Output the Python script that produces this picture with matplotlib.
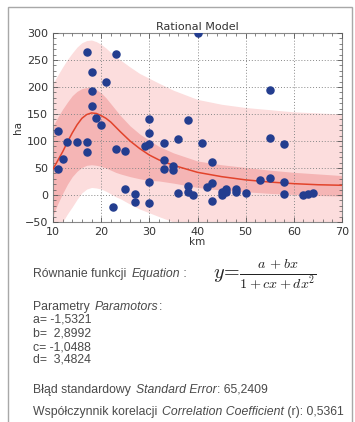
import matplotlib
matplotlib.use("Agg")
import matplotlib.pyplot as plt
from matplotlib.patches import Rectangle
from matplotlib.ticker import MultipleLocator

# Observations (distance in km, area in ha)
obs_km = [11, 11, 12, 13, 15, 17, 17, 17, 18, 18, 18, 19, 20, 21, 23, 23, 22.5,
          25, 25, 27, 27, 29, 30, 30, 30, 30, 30, 33, 33, 33, 35, 35, 36, 36,
          38, 38, 38, 39, 40, 41, 42, 43, 43, 43, 45, 45, 46, 46, 48, 48, 50,
          53, 55, 55, 55, 58, 58, 58, 62, 63, 64]
obs_ha = [118, 48, 67, 99, 99, 265, 99, 80, 227, 192, 165, 142, 130, 210, 262, 86, -23,
          81, 11, 2, -13, 91, 141, 115, 95, 24, -14, 97, 64, 48, 54, 47, 103, 4,
          139, 16, 5, 0, 300, 96, 14, 62, 22, -12, 6, 0, 12, 5, 12, 5, 3,
          28, 195, 106, 31, 95, 25, 2, 0, 1, 4]

# Fitted rational model with confidence and prediction bands
fit_km = [10, 11, 12, 13, 14, 15, 16, 17, 18, 19, 20, 21, 22, 23, 24, 26, 28, 30, 32, 35,
          40, 45, 50, 55, 60, 65, 70]
fit_ha = [48, 64, 80, 98, 115, 130, 142, 149, 152, 151, 147, 142, 135, 126, 117, 100, 86,
          74, 65, 55, 42, 34, 28, 24, 21, 19, 18]
conf_hi = [128, 144, 159, 172, 184, 192, 197, 199, 199, 195, 189, 180, 169, 158, 147, 128,
           113, 101, 90, 78, 63, 56, 51, 46, 42, 39, 36]
conf_lo = [-38, -16, 3, 20, 34, 44, 51, 55, 56, 55, 53, 50, 46, 42, 39, 34, 30, 27, 26, 22,
           14, 9, 6, 3, 1, -1, -2]
pred_hi = [207, 222, 237, 251, 263, 274, 282, 286, 287, 284, 279, 272, 264, 257, 250, 237,
           225, 216, 207, 194, 177, 168, 162, 158, 154, 152, 150]
pred_lo = [-110, -78, -50, -35, -22, -8, 4, 11, 14, 13, 11, 7, 2, -3, -7, -17, -26, -33,
           -40, -50, -63, -72, -80, -85, -90, -94, -97]

x_ticks = [10, 20, 30, 40, 50, 60, 70]
y_ticks = [-50, 0, 50, 100, 150, 200, 250, 300]

W, H = 355, 422
fig = plt.figure(figsize=(W / 100, H / 100), dpi=100)
fig.patch.set_facecolor("white")

# card frame
fig.add_artist(Rectangle((8 / W, -0.05), 344 / W, 1.05 - 7 / H, transform=fig.transFigure,
                         fill=False, edgecolor="#a8a8a8", lw=1.0))

ax = fig.add_axes([53 / W, 1 - 222 / H, 289 / W, 189 / H])
ax.fill_between(fit_km, pred_lo, pred_hi, color="#fcdddd", lw=0, zorder=1)
ax.fill_between(fit_km, conf_lo, conf_hi, color="#f5b5b5", lw=0, zorder=2)
ax.plot(fit_km, fit_ha, color="#e2432b", lw=1.1, zorder=3)
ax.scatter(obs_km, obs_ha, s=26, color="#233d8f", edgecolors="#233d8f", zorder=4)

ax.set_xlim(10, 70)
ax.set_ylim(-50, 300)
ax.set_xticks(x_ticks)
ax.set_yticks(y_ticks)
ax.xaxis.set_minor_locator(MultipleLocator(2))
ax.yaxis.set_minor_locator(MultipleLocator(10))
ax.tick_params(which="both", direction="in", top=True, right=True, colors="#555555",
               labelcolor="#333333", labelsize=8)
ax.tick_params(which="major", length=3.5, width=0.6)
ax.tick_params(which="minor", length=2, width=0.5)
ax.grid(True, which="major", color="#888888", linestyle=(0, (1, 2)), lw=0.7)
ax.set_axisbelow(False)
for s in ax.spines.values():
    s.set_color("#888888")
    s.set_linewidth(0.8)
ax.set_title("Rational Model", fontsize=8, color="#333333", pad=2)
ax.set_xlabel("km", fontsize=7.5, color="#333333", labelpad=0)
ax.set_ylabel("ha", fontsize=7.5, color="#333333", labelpad=1)

# description panel below the chart
plt.rcParams["mathtext.fontset"] = "cm"
renderer = fig.canvas.get_renderer()
TXT = "#4a4a4a"
FS = 8.8


def line(y_px, parts, x_px=33):
    x = x_px / W
    for txt, style, gap in parts:
        x += gap / W
        t = fig.text(x, 1 - y_px / H, txt, fontsize=FS, color=TXT, style=style,
                     family="Liberation Sans", va="center", ha="left")
        bb = t.get_window_extent(renderer)
        x = bb.x1 / W


line(274, [("Równanie funkcji", "normal", 0), ("Equation", "italic", 5), (" :", "normal", 0)])
fig.text(213 / W, 1 - 274 / H, r"$y\!=\!\frac{a\,+bx}{1+cx+dx^2}$", fontsize=14.5,
         color="#222222", va="center", ha="left")
line(307, [("Parametry", "normal", 0), ("Paramotors", "italic", 5), (":", "normal", 0)])
line(320, [("a= -1,5321", "normal", 0)])
line(333, [("b=  2,8992", "normal", 0)])
line(347, [("c= -1,0488", "normal", 0)])
line(359, [("d=  3,4824", "normal", 0)])
line(390, [("Błąd standardowy", "normal", 0), ("Standard Error", "italic", 5),
           (": 65,2409", "normal", 0)])
line(412, [("Współczynnik korelacji", "normal", 0), ("Correlation Coefficient", "italic", 5),
           (" (r): 0,5361", "normal", 0)])

fig.savefig("out.png", dpi=100, facecolor="white")
